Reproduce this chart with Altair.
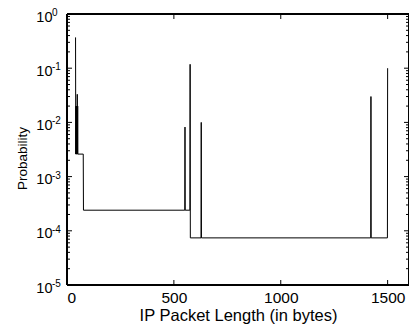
import altair as alt
import pandas as pd

# PMF of IP packet length (points where the curve changes)
pkt_bytes = [40, 41, 42, 43, 44, 45, 46, 47, 48, 49, 50, 51, 76, 77,
             551, 552, 553, 575, 576, 577, 627, 628, 629,
             1421, 1422, 1423, 1499, 1500]
pkt_prob = [0.37, 0.0026, 0.02, 0.0026, 0.02, 0.0026, 0.02, 0.0026, 0.033, 0.0026, 0.02, 0.0026, 0.0026, 0.00024,
            0.00024, 0.0082, 0.00024, 0.00024, 0.118, 0.000074, 0.000074, 0.01, 0.000074,
            0.000074, 0.03, 0.000074, 0.000074, 0.1]

x_ticks = [0, 500, 1000, 1500]
y_major = [1e-5, 1e-4, 1e-3, 1e-2, 1e-1, 1]
y_exp = ["-5", "-4", "-3", "-2", "-1", "0"]
y_minor = [m * d for d in [1e-5, 1e-4, 1e-3, 1e-2, 1e-1] for m in range(2, 10)]

W, H = 342, 271
FONT = "Liberation Sans"

xs = alt.Scale(domain=[0, 1600], nice=False, zero=False)
ys = alt.Scale(type="log", domain=[1e-5, 1], nice=False)

ax_x = alt.Axis(
    values=x_ticks, format="d", ticks=False, domain=False, grid=False,
    labelFont=FONT, labelFontSize=15.5, labelColor="black", labelPadding=5,
    title="IP Packet Length (in bytes)", titleFont=FONT, titleFontSize=16.5,
    titleFontWeight="normal", titleColor="black", titlePadding=2)
ax_y = alt.Axis(
    values=y_major, labelExpr="'10'", ticks=False, domain=False, grid=False,
    labelFont=FONT, labelFontSize=14.5, labelColor="black", labelPadding=15,
    labelBaseline="middle", labelOffset=3,
    title="Probability", titleFont=FONT, titleFontSize=13.5,
    titleFontWeight="normal", titleColor="black", titleY=144, titlePadding=6)

df = pd.DataFrame({"b": pkt_bytes, "p": pkt_prob, "i": list(range(len(pkt_bytes)))})

line = alt.Chart(df).mark_line(color="black", strokeWidth=1).encode(
    x=alt.X("b:Q", scale=xs, axis=ax_x),
    y=alt.Y("p:Q", scale=ys, axis=ax_y),
    order="i:O",
)

dmaj = pd.DataFrame({"p": y_major, "e": y_exp})
dmin = pd.DataFrame({"p": y_minor})
dx = pd.DataFrame({"b": x_ticks})

def yrule(data, x1, x2):
    return alt.Chart(data).mark_rule(color="black", strokeWidth=1).encode(
        y=alt.Y("p:Q", scale=ys, axis=ax_y), x=alt.value(x1), x2=alt.value(x2))

def xrule(y1, y2):
    return alt.Chart(dx).mark_rule(color="black", strokeWidth=1).encode(
        x=alt.X("b:Q", scale=xs, axis=ax_x), y=alt.value(y1), y2=alt.value(y2))

def frame_h(y):
    return alt.Chart(dx).mark_rule(color="black", strokeWidth=1.5).encode(
        x=alt.value(0), x2=alt.value(W), y=alt.value(y))

def frame_v(x):
    return alt.Chart(dx).mark_rule(color="black", strokeWidth=1.5).encode(
        y=alt.value(0), y2=alt.value(H), x=alt.value(x))

exps = alt.Chart(dmaj).mark_text(font=FONT, fontSize=10, align="left", baseline="middle",
                                 dy=-1, color="black").encode(
    y=alt.Y("p:Q", scale=ys, axis=ax_y), x=alt.value(-15), text="e:N")

chart = alt.layer(
    line,
    yrule(dmaj, 0, 5), yrule(dmaj, W - 5, W),
    yrule(dmin, 0, 3), yrule(dmin, W - 3, W),
    xrule(H - 5, H), xrule(0, 5),
    frame_h(0), frame_h(H), frame_v(0), frame_v(W),
    exps,
).properties(
    width=W, height=H,
    background="white",
    autosize=alt.AutoSizeParams(type="none"),
    padding={"left": 67, "top": 14, "right": 0, "bottom": 42},
).configure_view(strokeWidth=0, fill="white")

chart.save("out.html", embed_options={"renderer": "svg", "actions": False})
